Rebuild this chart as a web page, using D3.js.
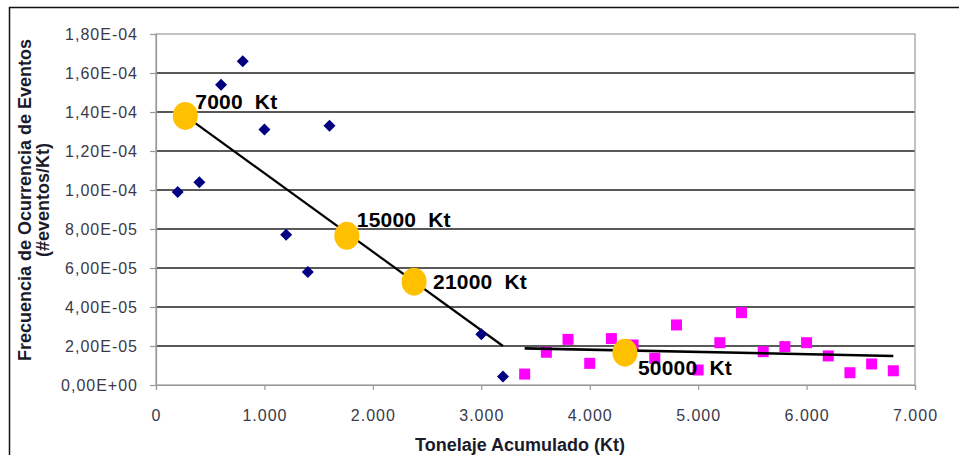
<!DOCTYPE html>
<html>
<head>
<meta charset="utf-8">
<script src="https://cdn.jsdelivr.net/npm/d3@7"></script>
<style>
  html, body { margin: 0; padding: 0; background: #fff; }
  svg { display: block; }
  text { font-family: "Liberation Sans", Arial, sans-serif; }
</style>
</head>
<body>
<svg id="chart" width="959" height="455"></svg>
<script>
// ---- data ----
const xTickValues = [0, 1000, 2000, 3000, 4000, 5000, 6000, 7000];
const yTickValues = [0, 2e-5, 4e-5, 6e-5, 8e-5, 1e-4, 1.2e-4, 1.4e-4, 1.6e-4, 1.8e-4];

const seriesA_x = [200, 400, 600, 800, 1000, 1200, 1400, 1600, 3000, 3200];
const seriesA_y = [9.9e-5, 1.04e-4, 1.54e-4, 1.66e-4, 1.31e-4, 7.7e-5, 5.8e-5, 1.33e-4, 2.6e-5, 4.3e-6];

const seriesB_x = [3400, 3600, 3800, 4000, 4200, 4400, 4600, 4800, 5000, 5200, 5400, 5600, 5800, 6000, 6200, 6400, 6600, 6800];
const seriesB_y = [5.6e-6, 1.68e-5, 2.34e-5, 1.11e-5, 2.38e-5, 2.05e-5, 1.37e-5, 3.08e-5, 7.7e-6, 2.17e-5, 3.71e-5, 1.71e-5, 1.97e-5, 2.17e-5, 1.49e-5, 6.3e-6, 1.08e-5, 7.3e-6];

const trendA_x = [270, 3200];
const trendA_y = [1.38e-4, 2.0e-5];
const trendB_x = [3400, 6800];
const trendB_y = [1.88e-5, 1.49e-5];

const milestone_x = [270, 1760, 2380, 4325];
const milestone_y = [1.38e-4, 7.65e-5, 5.3e-5, 1.66e-5];
const milestone_labels = ["7000 Kt", "15000 Kt", "21000 Kt", "50000 Kt"];

const xTitle = "Tonelaje Acumulado (Kt)";
const yTitle1 = "Frecuencia de Ocurrencia de Eventos";
const yTitle2 = "(#eventos/Kt)";

// ---- layout / style ----
const plot = { left: 156, right: 915, top: 34, bottom: 385 };
const labelOffsets = [[10, -7], [10, -9], [19, 7], [13, 22]];

const svg = d3.select("#chart");
svg.append("rect").attr("width", 959).attr("height", 455).attr("fill", "#fff");

// outer frame
svg.append("path").attr("d", "M9.5,455 V7.5 H959").attr("fill", "none")
  .attr("stroke", "#111").attr("stroke-width", 1.5);

const x = d3.scaleLinear().domain([0, 7000]).range([plot.left, plot.right]);
const y = d3.scaleLinear().domain([0, 1.8e-4]).range([plot.bottom, plot.top]);

function fmtY(v) {
  if (v === 0) return "0,00E+00";
  const e = Math.floor(Math.log10(Math.abs(v)) + 1e-9);
  const m = v / Math.pow(10, e);
  const es = (e < 0 ? "-" : "+") + String(Math.abs(e)).padStart(2, "0");
  return m.toFixed(2).replace(".", ",") + "E" + es;
}
function fmtX(v) {
  return d3.format(",")(v).replace(/,/g, ".");
}

// gridlines
svg.append("g").selectAll("line")
  .data(yTickValues.filter(v => v > 0 && v < 1.8e-4))
  .join("line")
  .attr("x1", plot.left).attr("x2", plot.right)
  .attr("y1", d => y(d)).attr("y2", d => y(d))
  .attr("stroke", "#222").attr("stroke-width", 1.6);

// plot border
svg.append("rect")
  .attr("x", plot.left).attr("y", plot.top)
  .attr("width", plot.right - plot.left).attr("height", plot.bottom - plot.top)
  .attr("fill", "none").attr("stroke", "#999").attr("stroke-width", 1.2);

// axes
const yAxis = svg.append("g").attr("transform", `translate(${plot.left},0)`)
  .call(d3.axisLeft(y).tickValues(yTickValues).tickFormat(fmtY).tickSize(6).tickPadding(12));
const xAxis = svg.append("g").attr("transform", `translate(0,${plot.bottom})`)
  .call(d3.axisBottom(x).tickValues(xTickValues).tickFormat(fmtX).tickSize(5).tickPadding(0));
[yAxis, xAxis].forEach(a => {
  a.select(".domain").attr("stroke", "#999").attr("stroke-width", 1.2);
  a.selectAll(".tick line").attr("stroke", "#999").attr("stroke-width", 1.2);
  a.selectAll(".tick text").attr("fill", "#3a3a4a").attr("font-size", 16)
    .attr("letter-spacing", 1)
    .attr("font-family", "'Liberation Sans', Arial, sans-serif");
});
xAxis.selectAll(".tick text").attr("y", 36).attr("dy", null);

// trend lines
const line = d3.line().x(d => x(d[0])).y(d => y(d[1]));
svg.append("path").datum(d3.zip(trendA_x, trendA_y)).attr("d", line)
  .attr("fill", "none").attr("stroke", "#000").attr("stroke-width", 2.2);

// series A: navy diamonds
svg.append("g").selectAll("path")
  .data(d3.zip(seriesA_x, seriesA_y)).join("path")
  .attr("d", d3.symbol(d3.symbolSquare, 72))
  .attr("transform", d => `translate(${x(d[0])},${y(d[1])}) rotate(45)`)
  .attr("fill", "#000080");

// series B: magenta squares
svg.append("g").selectAll("path")
  .data(d3.zip(seriesB_x, seriesB_y)).join("path")
  .attr("d", d3.symbol(d3.symbolSquare, 121))
  .attr("transform", d => `translate(${x(d[0])},${y(d[1])})`)
  .attr("fill", "#ff00ff");

svg.append("path").datum(d3.zip(trendB_x, trendB_y)).attr("d", line)
  .attr("fill", "none").attr("stroke", "#000").attr("stroke-width", 2.6);

// milestones
const ms = d3.zip(milestone_x, milestone_y, milestone_labels);
svg.append("g").selectAll("ellipse").data(ms).join("ellipse")
  .attr("cx", d => x(d[0])).attr("cy", d => y(d[1]))
  .attr("rx", 12.5).attr("ry", 14).attr("fill", "#ffc000");
svg.append("g").selectAll("text").data(ms).join("text")
  .attr("x", (d, i) => x(d[0]) + labelOffsets[i][0])
  .attr("y", (d, i) => y(d[1]) + labelOffsets[i][1])
  .attr("font-size", 21).attr("font-weight", "bold")
  .attr("letter-spacing", 0.2).attr("word-spacing", 6)
  .attr("fill", "#000")
  .text(d => d[2]);

// axis titles
svg.append("text").attr("x", 520).attr("y", 451).attr("text-anchor", "middle")
  .attr("font-size", 18).attr("font-weight", "bold").attr("fill", "#1a1a2a")
  .text(xTitle);
svg.append("text").attr("transform", "translate(31,200) rotate(-90)")
  .attr("text-anchor", "middle").attr("font-size", 18).attr("font-weight", "bold")
  .attr("fill", "#1a1a2a").text(yTitle1);
svg.append("text").attr("transform", "translate(49,200) rotate(-90)")
  .attr("text-anchor", "middle").attr("font-size", 18).attr("font-weight", "bold")
  .attr("fill", "#1a1a2a").text(yTitle2);
</script>
</body>
</html>
